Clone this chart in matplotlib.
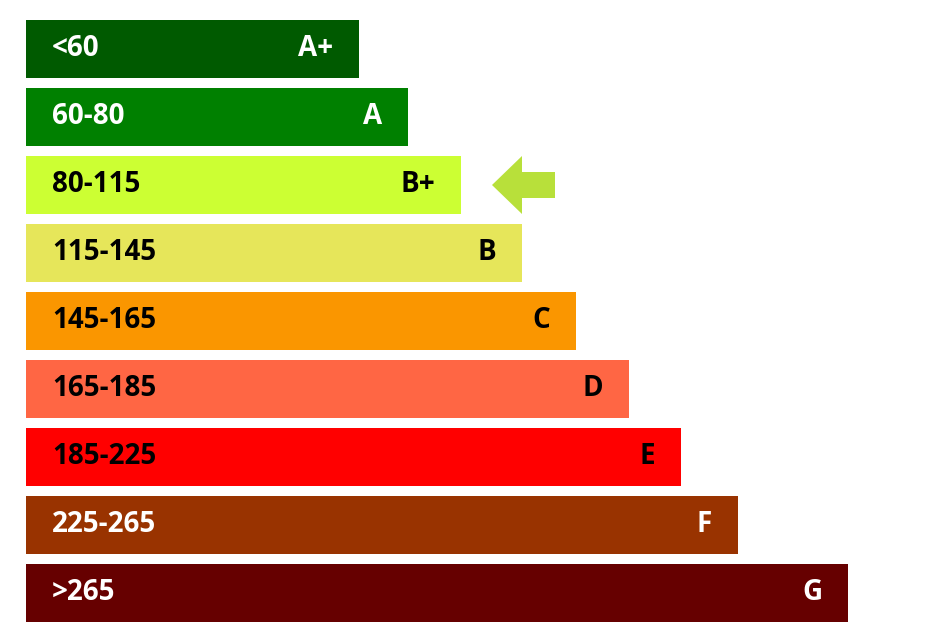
import matplotlib
matplotlib.use("Agg")
import matplotlib.pyplot as plt
from matplotlib.patches import FancyArrow

ranges = ["<60", "60-80", "80-115", "115-145", "145-165", "165-185", "185-225", "225-265", ">265"]
grades = ["A+", "A", "B+", "B", "C", "D", "E", "F", "G"]
bar_lengths = [333, 382, 435, 496, 550, 603, 655, 712, 822]
colors = ["#005a00", "#008000", "#ccff33", "#e6e65a", "#fa9600", "#ff6644", "#ff0000", "#993300", "#660000"]
text_colors = ["white", "white", "black", "black", "black", "black", "black", "white", "white"]
current = "B+"

fig = plt.figure(figsize=(9.42, 6.38), dpi=100)
ax = fig.add_axes([0, 0, 1, 1])
ax.set_xlim(0, 942)
ax.set_ylim(638, 0)
ax.axis("off")

left = 26
ys = [49 + 68 * i for i in range(len(ranges))]
ax.barh(ys, bar_lengths, left=left, height=58, color=colors)
for y, r, g, L, tc in zip(ys, ranges, grades, bar_lengths, text_colors):
    ax.text(52, y, r, color=tc, fontsize=20, fontweight="bold", family="Open Sans", va="center", ha="left")
    ax.text(left + L - 26, y, g, color=tc, fontsize=20, fontweight="bold", family="Open Sans", va="center", ha="right")

i = grades.index(current)
ya = ys[i]
L = bar_lengths[i]
ax.add_patch(FancyArrow(left + L + 94, ya, -63, 0, width=26, head_width=58, head_length=30,
                        length_includes_head=True, color="#b8e03a", linewidth=0))

fig.savefig("out.png", dpi=100)
